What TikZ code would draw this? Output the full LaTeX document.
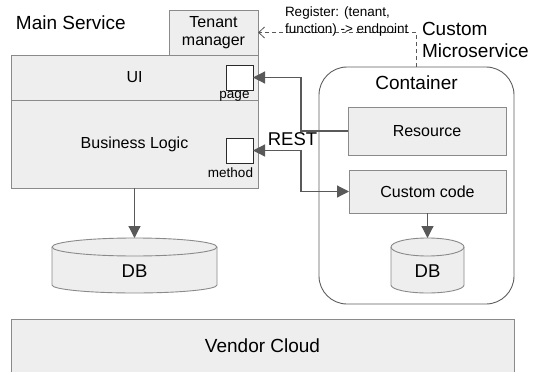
\documentclass[tikz,border=0pt]{standalone}
\usepackage{fontspec}
\setmainfont{Liberation Sans}
\usetikzlibrary{arrows.meta}
\definecolor{boxfill}{HTML}{EEEEEE}
\definecolor{boxline}{HTML}{8A8A8A}
\definecolor{arrcol}{HTML}{595959}
\definecolor{contline}{HTML}{5E5E5E}
\definecolor{pgline}{HTML}{2A2A2A}
\newcommand\fbig{\fontsize{19}{22}\selectfont}
\newcommand\fmid{\fontsize{16}{18}\selectfont}
\newcommand\fdb{\fontsize{18.5}{21}\selectfont}
\newcommand\fsmall{\fontsize{13.5}{17}\selectfont}
\tikzset{
  box/.style={draw=boxline, fill=boxfill, line width=0.9pt, inner sep=0pt, outer sep=0pt},
  smallbox/.style={draw=pgline, fill=white, line width=0.9pt, inner sep=0pt, outer sep=0pt},
  dbline/.style={draw=boxline, fill=boxfill, line width=0.9pt},
  arr/.style={draw=arrcol, line width=1.2pt, -{Triangle[length=12pt,width=12pt]}},
  arrboth/.style={draw=arrcol, line width=1.2pt, {Triangle[length=12pt,width=12pt]}-{Triangle[length=12pt,width=12pt]}},
  regdash/.style={draw=arrcol, line width=0.8pt, dash pattern=on 4pt off 3pt, -{Straight Barb[length=6pt,width=11pt]}},
  lbl/.style={inner sep=0pt, outer sep=0pt, text=black}
}
\begin{document}
\begin{tikzpicture}[x=1pt,y=-1pt]
\clip (0,0) rectangle (536,372);
\fill[white] (0,0) rectangle (536,372);

% Main service
\node[lbl, font=\fbig, anchor=base west] (ms) at (16,30) {Main Service};
\node[box, minimum width=89pt, minimum height=45pt, align=center, font=\fmid] (tm) at (213.5,32.5) {Tenant\\manager};
\node[box, minimum width=247pt, minimum height=45pt, font=\fmid] (ui) at (134.5,77.5) {UI};
\node[box, minimum width=247pt, minimum height=88pt, font=\fmid] (bl) at (134.5,144) {Business Logic};
\node[smallbox, minimum width=27pt, minimum height=25pt] (page) at (239.5,77.5) {};
\node[smallbox, minimum width=27pt, minimum height=25pt] (method) at (239.5,150.5) {};
\node[lbl, font=\fsmall, anchor=base] (pagelbl) at (234.5,98.5) {page};
\node[lbl, font=\fsmall, anchor=base] (methlbl) at (230.5,177) {method};

% Main DB
\node[minimum width=165pt, minimum height=55pt, inner sep=0pt, outer sep=0pt] (db1) at (134.5,265.5) {};
\filldraw[dbline] (52,247) arc[start angle=180,end angle=360,x radius=82.5,y radius=9]
  -- (217,285) arc[start angle=0,end angle=180,x radius=82.5,y radius=8] -- cycle;
\draw[dbline, fill=none] (52,247) arc[start angle=180,end angle=0,x radius=82.5,y radius=9];
\node[lbl, font=\fdb, anchor=base] (db1lbl) at (134.5,277) {DB};

% Custom microservice
\node[lbl, font=\fbig, align=left, anchor=north west] (cms) at (422,22) {Custom\\Microservice};
\node[draw=contline, rounded corners=28pt, minimum width=195pt, minimum height=237pt, line width=0.9pt, inner sep=0pt, outer sep=0pt] (cont) at (416.5,185.5) {};
\node[lbl, font=\fbig, anchor=base] (contlbl) at (416.5,89) {Container};
\node[box, minimum width=158pt, minimum height=48pt, font=\fmid] (res) at (427,131) {Resource};
\node[box, minimum width=157pt, minimum height=43pt, font=\fmid] (cc) at (427.5,191.5) {Custom code};

% Small DB
\node[minimum width=73pt, minimum height=55pt, inner sep=0pt, outer sep=0pt] (db2) at (427.5,265.5) {};
\filldraw[dbline] (391,247) arc[start angle=180,end angle=360,x radius=36.5,y radius=9]
  -- (464,285) arc[start angle=0,end angle=180,x radius=36.5,y radius=8] -- cycle;
\draw[dbline, fill=none] (391,247) arc[start angle=180,end angle=0,x radius=36.5,y radius=9];
\node[lbl, font=\fdb, anchor=base] (db2lbl) at (427.5,277) {DB};

% Vendor cloud
\node[box, minimum width=503pt, minimum height=54pt, font=\fbig] (vc) at (262.5,346) {Vendor Cloud};

% Connectors
\draw[arr] (bl.south) -- (db1.north);
\draw[arr] (cc.south) -- (db2.north);
\coordinate (j1) at (301,131);
\coordinate (j2) at (301,150.5);
\draw[arr] (res.west) -- (j1) |- (page.east);
\draw[arrboth] (method.east) -- (j2) |- (cc.west);
\node[lbl, font=\fdb, anchor=base] (rest) at (292.5,145) {REST};

% Register
\draw[regdash] (cont.north) -- (cont.north |- tm.east) -- (tm.east);
\node[lbl, font=\fsmall, align=left, anchor=north west] (reg) at (285,7) {Register: (tenant,\\function) -> endpoint};
\end{tikzpicture}
\end{document}
